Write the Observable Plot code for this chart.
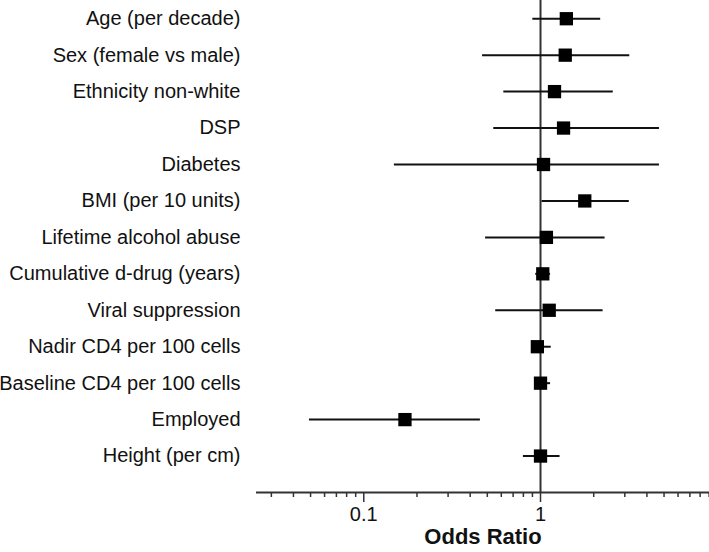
<!DOCTYPE html>
<html>
<head>
<meta charset="utf-8">
<script src="https://cdn.jsdelivr.net/npm/d3@7"></script>
<script src="https://cdn.jsdelivr.net/npm/@observablehq/plot@0.6"></script>
<style>
  html, body { margin: 0; padding: 0; background: #fff; }
  #chart svg { display: block; }
  #chart g[aria-label="x-axis label"] text { font-weight: bold; font-size: 22px; }
</style>
</head>
<body>
<div id="chart"></div>
<script>
const labels = [
  "Age (per decade)",
  "Sex (female vs male)",
  "Ethnicity non-white",
  "DSP",
  "Diabetes",
  "BMI (per 10 units)",
  "Lifetime alcohol abuse",
  "Cumulative d-drug (years)",
  "Viral suppression",
  "Nadir CD4 per 100 cells",
  "Baseline CD4 per 100 cells",
  "Employed",
  "Height (per cm)"
];
const oddsRatio = [1.40, 1.38, 1.20, 1.35, 1.04, 1.78, 1.08, 1.03, 1.12, 0.96, 1.00, 0.171, 1.00];
const lower     = [0.905, 0.47, 0.62, 0.544, 0.149, 1.02, 0.489, 0.94, 0.558, 0.93, 0.96, 0.0493, 0.80];
const upper     = [2.19, 3.20, 2.58, 4.71, 4.71, 3.18, 2.32, 1.14, 2.26, 1.15, 1.14, 0.457, 1.29];
const majorTicks = [0.1, 1];
const minorTicks = [0.03, 0.04, 0.05, 0.06, 0.07, 0.08, 0.09,
                    0.2, 0.3, 0.4, 0.5, 0.6, 0.7, 0.8, 0.9,
                    2, 3, 4, 5, 6, 7, 8, 9];

const data = labels.map((label, i) => ({label, i, or: oddsRatio[i], lo: lower[i], hi: upper[i]}));
const rows = labels.map((_, i) => i);

const chart = Plot.plot({
  width: 709,
  height: 552,
  marginLeft: 256,
  marginRight: 0,
  marginTop: 0,
  marginBottom: 60,
  style: {fontFamily: "'Liberation Sans', Arial, sans-serif", fontSize: "20px", color: "#111", background: "#fff"},
  x: {type: "log", domain: [0.02472, 9.04]},
  y: {type: "linear", domain: [-0.5, labels.length], reverse: true},
  marks: [
    Plot.axisY({ticks: rows, tickFormat: i => labels[i], tickSize: 0, tickPadding: 16, label: null, fontSize: 20, fill: "#111"}),
    Plot.axisX({ticks: minorTicks, tickSize: 5, tickFormat: () => "", label: null, strokeWidth: 1.5, stroke: "#333"}),
    Plot.axisX({ticks: majorTicks, tickSize: 10, tickPadding: 4, tickFormat: d => String(d), label: "Odds Ratio", labelAnchor: "center", labelArrow: "none", labelOffset: 51, strokeWidth: 1.5, stroke: "#333", fontSize: 20, fill: "#111"}),
    Plot.ruleX(majorTicks.slice(1), {stroke: "#333", strokeWidth: 2}),
    Plot.ruleY([labels.length], {stroke: "#333", strokeWidth: 2}),
    Plot.ruleY(data, {y: "i", x1: "lo", x2: "hi", stroke: "#111", strokeWidth: 2}),
    Plot.dot(data, {x: "or", y: "i", symbol: "square", r: 7.5, fill: "#000", stroke: "none"})
  ]
});
document.getElementById("chart").appendChild(chart);
</script>
</body>
</html>
